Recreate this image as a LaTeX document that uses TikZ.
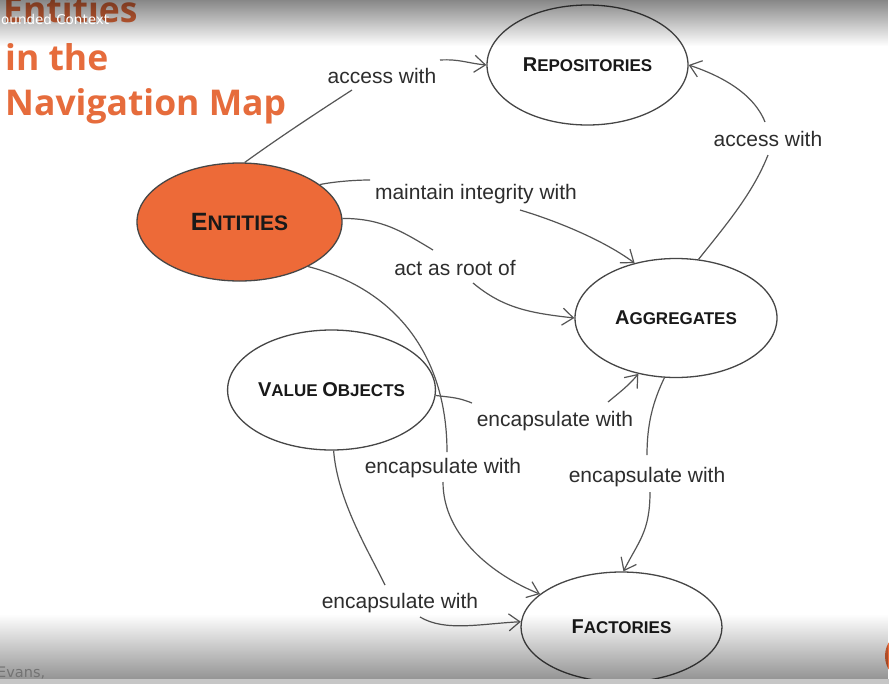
\documentclass[tikz,border=0pt]{standalone}
\usepackage{fontspec}
\setmainfont{Liberation Sans}
\newfontfamily\titlefont{Open Sans}
\newfontfamily\dvfont{DejaVu Sans}
\usetikzlibrary{arrows.meta,shapes.geometric,fadings}
\definecolor{titleorange}{RGB}{230,108,60}
\definecolor{entorange}{RGB}{237,106,56}
\definecolor{linegray}{RGB}{85,85,85}
\definecolor{edgegray}{RGB}{70,70,70}
\definecolor{labelgray}{RGB}{45,45,45}
\definecolor{stripgray}{RGB}{198,198,198}
\newcommand{\mySC}[2]{{\fontsize{20}{20}\selectfont #1}{\fontsize{17}{17}\selectfont #2}}
\newcommand{\myBigSC}[2]{{\fontsize{25}{25}\selectfont #1}{\fontsize{21}{21}\selectfont #2}}
\tikzfading[name=topfade, top color=transparent!0, middle color=transparent!38, bottom color=transparent!100]
\tikzfading[name=botfade, top color=transparent!100, middle color=transparent!75, bottom color=transparent!0]
\begin{document}
\begin{tikzpicture}[x=1pt,y=-1pt,
  every node/.style={inner sep=0pt},
  conn/.style={draw=linegray, line width=1.2pt},
  arr/.style={conn, -{Straight Barb[length=11pt,width=17pt]}},
  ell/.style={ellipse, draw=edgegray, line width=1.3pt, fill=white, inner sep=0pt},
  nodetext/.style={font=\bfseries, text=black!90},
  lbl/.style={anchor=base, font=\fontsize{21}{21}\selectfont, text=labelgray},
  ttl/.style={anchor=base west, text=titleorange, font=\titlefont\bfseries\fontsize{35.5}{35.5}\selectfont}]
\useasboundingbox (0,0) rectangle (889,683);
\clip (0,0) rectangle (889,683);
\fill[white] (0,0) rectangle (889,683);

% title
\node[ttl] (t1) at (3,22) {Entities};
\node[ttl] (t2) at (5,70) {in the};
\node[ttl] (t3) at (5,115) {Navigation Map};

% ellipses
\node[ell, minimum width=201pt, minimum height=120pt, nodetext] (rep) at (587.5,65) {\mySC{R}{EPOSITORIES}};
\node[ell, fill=entorange, minimum width=205pt, minimum height=118pt, nodetext] (ent) at (239.5,222) {\myBigSC{E}{NTITIES}};
\node[ell, minimum width=202pt, minimum height=119pt, nodetext] (agg) at (676,318) {\mySC{A}{GGREGATES}};
\node[ell, minimum width=203pt, minimum height=120pt, nodetext] (vo) at (331.5,390) {\mySC{V}{ALUE }\mySC{O}{BJECTS}};
\node[ell, minimum width=201pt, minimum height=110pt, nodetext] (fac) at (621.5,627) {\raisebox{-3pt}{\mySC{F}{ACTORIES}}};

% labels
\node[lbl] (l1) at (382,83) {access with};
\node[lbl] (l2) at (476,199) {maintain integrity with};
\node[lbl] (l3) at (455,275) {act as root of};
\node[lbl] (l4) at (768,146) {access with};
\node[lbl] (l5) at (555,426) {encapsulate with};
\node[lbl] (l6) at (443,473) {encapsulate with};
\node[lbl] (l7) at (647,482) {encapsulate with};
\node[lbl] (l8) at (400,608) {encapsulate with};

% connector ends at labels
\coordinate (p1a) at (352,90);
\coordinate (p1b) at (440,60);
\coordinate (p2a) at (370,180);
\coordinate (p2b) at (520,210);
\coordinate (p3a) at (433,250);
\coordinate (p3b) at (473,283);
\coordinate (p4a) at (768,155);
\coordinate (p4b) at (765,122);
\coordinate (p5a) at (472,403);
\coordinate (p5b) at (608,402);
\coordinate (p6a) at (447,452);
\coordinate (p6b) at (443,482);
\coordinate (p7a) at (385,585);
\coordinate (p7b) at (420,617);
\coordinate (p8a) at (647,455);
\coordinate (p8b) at (650,492);

% connectors
\draw[conn] (ent.85) .. controls +(36,-26) and +(-34,22) .. (p1a);
\draw[arr] (p1b) .. controls +(20,-1) and +(-20,-2) .. (rep.180);
\draw[conn] (ent.25) .. controls +(15,-3) and +(-15,0) .. (p2a);
\draw[arr] (p2b) .. controls +(40,12) and +(-30,-22) .. (agg.127);
\draw[conn] (ent.2) .. controls +(40,0) and +(-30,-18) .. (p3a);
\draw[arr] (p3b) .. controls +(30,25) and +(-45,-5) .. (agg.180);
\draw[conn] (agg.69) .. controls +(28,-35) and +(-15,38) .. (p4a);
\draw[arr] (p4b) .. controls +(-12,-30) and +(30,10) .. (rep.east);
\draw[conn] (vo.-3) .. controls +(15,2) and +(-15,-6) .. (p5a);
\draw[arr] (p5b) .. controls +(12,-10) and +(-10,12) .. (agg.-124);
\draw[conn] (ent.-33) .. controls +(92,24) and +(0,-92) .. (p6a);
\draw[arr] (p6b) .. controls +(0,55) and +(-45,-18) .. (fac.158);
\draw[conn] (vo.-88) .. controls +(4,50) and +(-17,-35) .. (p7a);
\draw[arr] (p7b) .. controls +(25,15) and +(-40,2) .. (fac.177);
\draw[conn] (agg.-101) .. controls +(-12,25) and +(0,-30) .. (p8a);
\draw[arr] (p8b) .. controls +(0,40) and +(15,-30) .. (fac.88);

% orange blob at right edge
\fill[entorange] (903,656) ellipse [x radius=18, y radius=22];

% video overlays
\fill[black, opacity=0.47, path fading=topfade] (0,0) rectangle (889,46);
\fill[black, opacity=0.42, path fading=botfade] (0,614) rectangle (889,679);
\fill[stripgray] (0,679) rectangle (889,684);

\node[anchor=base west, text=white, font=\dvfont\fontsize{13.5}{13.5}\selectfont] (bc) at (1,24) {ounded Context};
\node[anchor=base west, text=black!55, font=\dvfont\fontsize{14.5}{14.5}\selectfont] (ev) at (-3,677) {Evans,};
\end{tikzpicture}
\end{document}
